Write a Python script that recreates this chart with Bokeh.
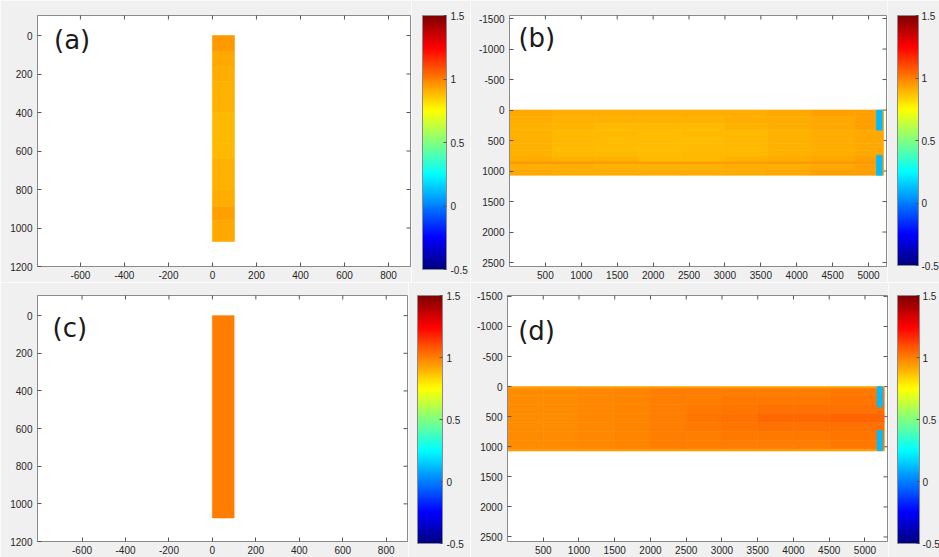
import numpy as np
from bokeh.plotting import figure
from bokeh.models import (LinearColorMapper, ColorBar, FixedTicker, NumeralTickFormatter,
                          Range1d, ColumnDataSource, Label)
from bokeh.layouts import column, row
from bokeh.embed import file_html
from bokeh.resources import INLINE

# ---------------- data ----------------
cbar_ticks = [-0.5, 0, 0.5, 1, 1.5]

# panel (a): column strip, x 0..100, values by depth band
a_x_edges = [0, 100]
a_y_edges = [0, 80, 160, 240, 320, 400, 480, 560, 640, 720, 800, 860, 890, 960, 1070]
a_vals = [[0.95], [0.92], [0.91], [0.90], [0.90], [0.89], [0.89], [0.89], [0.90], [0.90],
          [0.91], [0.91], [0.93], [0.92]]
a_xticks = [-600, -400, -200, 0, 200, 400, 600, 800]
a_yticks = [0, 200, 400, 600, 800, 1000, 1200]

# panel (c): column strip, uniform
c_x_edges = [0, 100]
c_y_edges = [0, 1075]
c_vals = [[1.0]]

# panel (b): long slab field
b_x_edges = [0, 600, 1200, 1800, 2400, 3000, 3600, 4200, 4800, 5210]
b_y_edges = [0, 110, 220, 330, 440, 550, 660, 770, 850, 890, 980, 1070]
b_vals = [
    [0.92, 0.91, 0.91, 0.91, 0.91, 0.91, 0.92, 0.93, 0.93],
    [0.91, 0.90, 0.90, 0.90, 0.90, 0.91, 0.91, 0.92, 0.93],
    [0.90, 0.895, 0.89, 0.89, 0.89, 0.90, 0.91, 0.92, 0.93],
    [0.90, 0.89, 0.885, 0.88, 0.885, 0.89, 0.90, 0.91, 0.92],
    [0.90, 0.89, 0.88, 0.875, 0.88, 0.89, 0.90, 0.91, 0.92],
    [0.90, 0.89, 0.88, 0.875, 0.88, 0.89, 0.90, 0.91, 0.92],
    [0.90, 0.89, 0.885, 0.88, 0.885, 0.89, 0.90, 0.91, 0.92],
    [0.91, 0.90, 0.90, 0.89, 0.89, 0.90, 0.91, 0.92, 0.93],
    [0.95, 0.95, 0.94, 0.94, 0.94, 0.94, 0.95, 0.95, 0.95],
    [0.91, 0.91, 0.90, 0.90, 0.90, 0.91, 0.91, 0.92, 0.93],
    [0.92, 0.91, 0.91, 0.91, 0.91, 0.91, 0.92, 0.93, 0.93],
]
b_pads_x = [[5110, 5190], [5110, 5190]]
b_pads_y = [[0, 330], [740, 1070]]
b_pads_v = [0.12, 0.12]

# panel (d): long slab field
d_x_edges = [0, 500, 1000, 1500, 2000, 2500, 3000, 3500, 4000, 4500, 5270]
d_y_edges = [0, 30, 150, 300, 450, 600, 750, 900, 1040, 1070]
d_vals = [
    [0.93, 0.93, 0.93, 0.93, 0.93, 0.93, 0.93, 0.93, 0.93, 0.93],
    [0.97, 0.97, 0.98, 0.99, 1.00, 1.00, 1.00, 1.00, 1.00, 1.01],
    [0.97, 0.97, 0.98, 0.99, 1.00, 1.00, 1.01, 1.01, 1.01, 1.02],
    [0.97, 0.97, 0.98, 0.99, 1.00, 1.01, 1.02, 1.03, 1.03, 1.03],
    [0.97, 0.97, 0.98, 0.99, 1.00, 1.02, 1.03, 1.04, 1.04, 1.05],
    [0.97, 0.97, 0.98, 0.99, 1.00, 1.01, 1.02, 1.03, 1.03, 1.03],
    [0.97, 0.97, 0.98, 0.99, 1.00, 1.00, 1.01, 1.01, 1.01, 1.02],
    [0.97, 0.97, 0.98, 0.99, 1.00, 1.00, 1.00, 1.00, 1.00, 1.01],
    [0.95, 0.95, 0.95, 0.95, 0.95, 0.95, 0.95, 0.95, 0.95, 0.95],
]
d_pads_x = [[5170, 5245], [5170, 5245]]
d_pads_y = [[0, 340], [730, 1065]]
d_pads_v = [0.12, 0.12]

bd_xticks = [500, 1000, 1500, 2000, 2500, 3000, 3500, 4000, 4500, 5000]
bd_yticks = [-1500, -1000, -500, 0, 500, 1000, 1500, 2000, 2500]

# ---------------- style ----------------
FONT = "Liberation Sans"
TITLE_FONT = "DejaVu Sans"
TXT = "#262626"
EDGE = "#8a8a8a"
TICK = "#555555"
BG = "#f0f0f0"


def jet(n=256):
    t = np.linspace(0, 1, n)
    r = np.clip(1.5 - np.abs(4 * t - 3), 0, 1)
    g = np.clip(1.5 - np.abs(4 * t - 2), 0, 1)
    b = np.clip(1.5 - np.abs(4 * t - 1), 0, 1)
    return ["#%02x%02x%02x" % (int(round(R * 255)), int(round(G * 255)), int(round(B * 255)))
            for R, G, B in zip(r, g, b)]


mapper = LinearColorMapper(palette=jet(), low=-0.5, high=1.5)


def cell_source(x_edges, y_edges, grid):
    L, R, T, B, V = [], [], [], [], []
    for i, rowv in enumerate(grid):
        for j, v in enumerate(rowv):
            L.append(x_edges[j]); R.append(x_edges[j + 1])
            T.append(y_edges[i]); B.append(y_edges[i + 1]); V.append(v)
    return ColumnDataSource(dict(left=L, right=R, top=T, bottom=B, v=V))


def pad_source(px, py, pv):
    return ColumnDataSource(dict(left=[a[0] for a in px], right=[a[1] for a in px],
                                 top=[a[0] for a in py], bottom=[a[1] for a in py], v=pv))


def style_axis(ax, ticks, standoff):
    ax.ticker = FixedTicker(ticks=ticks)
    ax.formatter = NumeralTickFormatter(format="0")
    ax.major_tick_in = 4
    ax.major_tick_out = 0
    ax.minor_tick_line_color = None
    ax.axis_line_color = EDGE
    ax.major_tick_line_color = TICK
    ax.major_label_text_font = FONT
    ax.major_label_text_font_size = "10px"
    ax.major_label_text_color = TXT
    ax.major_label_standoff = standoff


def make_fig(w, h, xr, yr, xticks, yticks, mbl, mbt, mbb, label_text, lx, ly):
    p = figure(width=w, height=h, x_range=Range1d(*xr), y_range=Range1d(*yr),
               output_backend="svg", toolbar_location=None,
               min_border_left=mbl, min_border_top=mbt, min_border_bottom=mbb,
               min_border_right=1)
    p.background_fill_color = "white"
    p.border_fill_color = BG
    p.outline_line_color = EDGE
    p.grid.visible = False
    for ax in p.xaxis:
        style_axis(ax, xticks, 4)
    for ax in p.yaxis:
        style_axis(ax, yticks, 5)
    # mirrored inward tick marks on the top and right edges of the box
    p.scatter(x=xticks, y=[yr[1]] * len(xticks), marker="dash", angle=np.pi / 2,
              size=8, line_color=TICK, line_width=1)
    p.scatter(x=[xr[1]] * len(yticks), y=yticks, marker="dash",
              size=8, line_color=TICK, line_width=1)
    p.add_layout(Label(x=lx, y=ly, text=label_text, text_font=TITLE_FONT,
                       text_font_size="26px", text_baseline="middle", text_color="#1a1a1a"))
    return p


def make_cbar(w, h, off_left, off_top, bar_w, bar_h, standoff):
    f = figure(width=w, height=h, x_range=Range1d(0, 1), y_range=Range1d(0, 1),
               x_axis_type=None, y_axis_type=None, output_backend="svg",
               toolbar_location=None, min_border_left=off_left, min_border_top=off_top,
               min_border_right=0, min_border_bottom=0)
    f.outline_line_color = None
    f.background_fill_color = BG
    f.border_fill_color = BG
    f.grid.visible = False
    cb = ColorBar(color_mapper=mapper, ticker=FixedTicker(ticks=cbar_ticks),
                  formatter=NumeralTickFormatter(format="0.[0]"),
                  location="top_left", width=bar_w, height=bar_h,
                  padding=0, margin=0,
                  major_tick_in=3, major_tick_out=0, major_tick_line_color=TICK,
                  minor_tick_line_color=None,
                  major_label_text_font=FONT, major_label_text_font_size="10px",
                  major_label_text_color=TXT, label_standoff=standoff,
                  bar_line_color=EDGE, background_fill_color=BG, background_fill_alpha=0)
    f.add_layout(cb, "center")
    return f


def draw_cells(p, src):
    p.quad(left="left", right="right", top="top", bottom="bottom", source=src,
           fill_color={"field": "v", "transform": mapper},
           line_color={"field": "v", "transform": mapper}, line_width=0.6)


pa = make_fig(411, 282, (-795, 900), (1200, -104), a_xticks, a_yticks,
              37, 13, 16, "(a)", -720, 24)
draw_cells(pa, cell_source(a_x_edges, a_y_edges, a_vals))
cba = make_cbar(59, 282, 11, 9, 24, 254, 4)

pb = make_fig(417, 282, (0, 5250), (2565, -1550), bd_xticks, bd_yticks,
              39, 15, 16, "(b)", 125, -1173)
draw_cells(pb, cell_source(b_x_edges, b_y_edges, b_vals))
draw_cells(pb, pad_source(b_pads_x, b_pads_y, b_pads_v))
cbb = make_cbar(52, 282, 10, 13, 21, 250, 3)

pc = make_fig(408, 275, (-805, 898), (1200, -107), a_xticks, a_yticks,
              37, 11, 16, "(c)", -736, 67)
draw_cells(pc, cell_source(c_x_edges, c_y_edges, c_vals))
cbc = make_cbar(62, 275, 9, 10, 25, 248, 4)

pd = make_fig(418, 275, (0, 5315), (2575, -1515), bd_xticks, bd_yticks,
              37, 13, 16, "(d)", 150, -927)
draw_cells(pd, cell_source(d_x_edges, d_y_edges, d_vals))
draw_cells(pd, pad_source(d_pads_x, d_pads_y, d_pads_v))
cbd = make_cbar(51, 275, 9, 10, 22, 248, 3)

layout = column(row(pa, cba, pb, cbb), row(pc, cbc, pd, cbd))
open("out.html", "w").write(file_html(layout, INLINE))
